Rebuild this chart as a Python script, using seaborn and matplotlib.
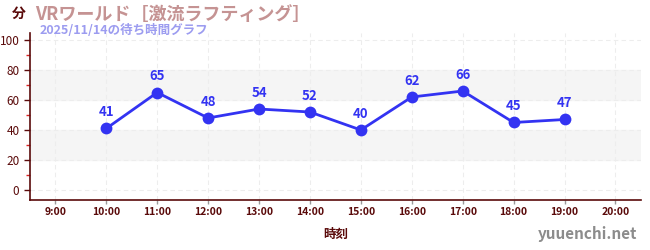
import matplotlib
matplotlib.use("Agg")
import matplotlib.pyplot as plt
import seaborn as sns
import pandas as pd
from matplotlib.ticker import MultipleLocator

hours = [10, 11, 12, 13, 14, 15, 16, 17, 18, 19]
waits = [41, 65, 48, 54, 52, 40, 62, 66, 45, 47]
xticks = list(range(9, 21))
xlabels = [f"{h}:00" for h in xticks]
yticks = [0, 20, 40, 60, 80, 100]
title = "VRワールド［激流ラフティング］"
subtitle = "2025/11/14の待ち時間グラフ"

sns.set_theme(style="white")
plt.rcParams['font.family'] = ['Noto Sans CJK JP', 'DejaVu Sans']

df = pd.DataFrame({"hour": hours, "wait": waits})

fig = plt.figure(figsize=(6.5, 2.5), dpi=100)
ax = fig.add_axes([0.046, 0.2, 0.94, 0.668])

dark = "#5a0a0a"
ax.axhspan(20, 40, color="#f5f5f5", zorder=0)
ax.axhspan(60, 80, color="#f5f5f5", zorder=0)
for y in yticks:
    ax.axhline(y, color="#ededed", lw=0.8, ls=(0, (4, 3)), zorder=0.5)
for x in xticks:
    ax.axvline(x, color="#ededed", lw=0.8, ls=(0, (4, 3)), zorder=0.5)

line_color = "#3333f2"
sns.lineplot(data=df, x="hour", y="wait", ax=ax, color=line_color, lw=2,
             marker="o", markersize=8.5, markeredgewidth=0, zorder=3)
for h, w in zip(hours, waits):
    ax.annotate(str(w), (h, w), xytext=(0, 6.5), textcoords="offset points",
                ha="center", va="bottom", color=line_color, fontsize=9.5,
                fontweight="bold")

ax.set_xlim(8.5, 20.5)
ax.set_ylim(-6.7, 104.7)
ax.set_xticks(xticks)
ax.set_xticklabels(xlabels, fontsize=7.5, color=dark, fontweight="bold")
ax.set_yticks(yticks)
ax.set_yticklabels([str(v) for v in yticks], fontsize=8.5, color=dark)
ax.yaxis.set_minor_locator(MultipleLocator(10))
ax.tick_params(axis="y", which="major", length=4, color=dark, width=1, left=True)
ax.tick_params(axis="y", which="minor", length=3, color="#dd2222", width=1, left=True)
ax.tick_params(axis="x", which="major", length=3, color="#999999", width=1, bottom=True, pad=2)
ax.set_xlabel("時刻", fontsize=9, color=dark, fontweight="bold", labelpad=8)
ax.set_ylabel("")
for s in ["top", "right"]:
    ax.spines[s].set_visible(False)
for s in ["left", "bottom"]:
    ax.spines[s].set_color(dark)
    ax.spines[s].set_linewidth(1.2)

fig.text(12 / 650, 1 - 14 / 250, "分", fontsize=10, color=dark, fontweight="bold",
         ha="left", va="center")
fig.text(35 / 650, 1 - 14 / 250, title, fontsize=13, color="#c59393", fontweight="bold",
         ha="left", va="center")
fig.text(40 / 650, 1 - 31 / 250, subtitle, fontsize=9, color="#9c9cf0", fontweight="bold",
         ha="left", va="center")
fig.text(637 / 650, 1 - 234 / 250, "yuuenchi.net", fontsize=11, color="#8c8c8c",
         fontweight="bold", ha="right", va="center")

fig.savefig("out.png", dpi=100)
